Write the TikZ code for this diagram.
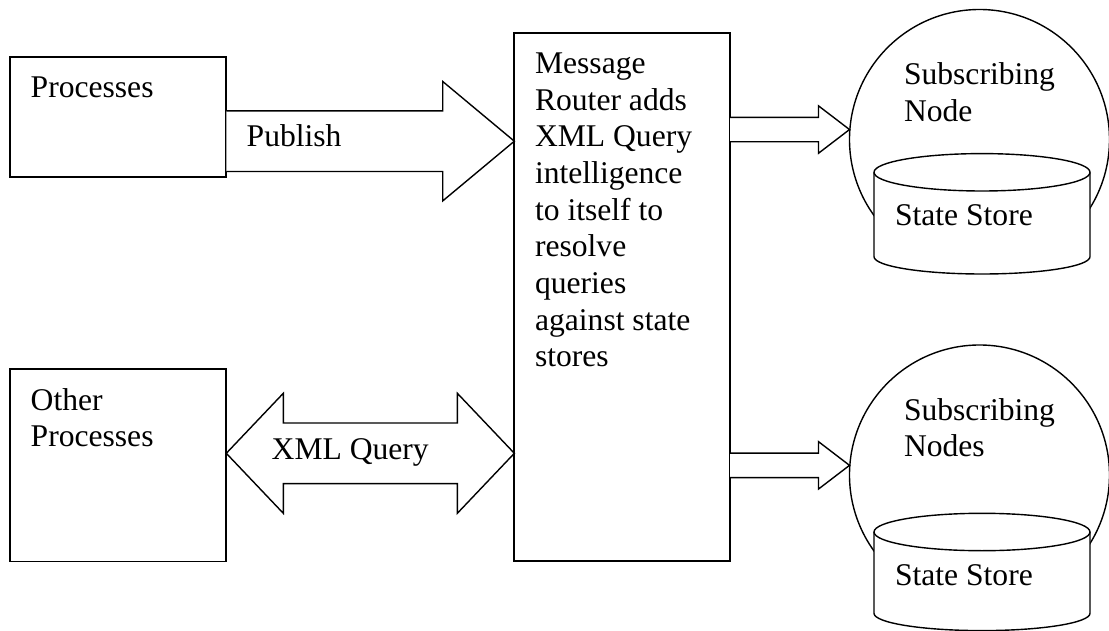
\documentclass[tikz,border=0pt]{standalone}
\usepackage{fontspec}
\setmainfont{Liberation Serif}
\usetikzlibrary{calc}

\newcommand{\diagfont}{\fontsize{31.6pt}{36.7pt}\selectfont}

% Block arrow from #1 (tail) to #2 (tip), shaft half-width #3,
% head half-width #4, head length #5
\newcommand{\fatarrow}[5]{%
  \draw[barrow] ($(#1)+(0,#3)$) -- ($(#2)+(-#5,#3)$) -- ($(#2)+(-#5,#4)$)
    -- (#2) -- ($(#2)+(-#5,-#4)$) -- ($(#2)+(-#5,-#3)$) -- ($(#1)+(0,-#3)$);}

% Database cylinder: left x, right x, top centre y, bottom centre y
\newcommand{\storecyl}[4]{%
  \path[store] (#1,#3) -- (#1,#4)
    arc[start angle=180,end angle=360,x radius={(#2-#1)/2*1pt},y radius=17.3pt]
    -- (#2,#3)
    arc[start angle=0,end angle=180,x radius={(#2-#1)/2*1pt},y radius=18.7pt] -- cycle;
  \draw[storeline] (#1,#3)
    arc[start angle=180,end angle=360,x radius={(#2-#1)/2*1pt},y radius=18.7pt];}

\begin{document}
\begin{tikzpicture}[x=1pt,y=1pt,
  box/.style={draw,line width=1.9pt,minimum width=216.6pt,inner sep=0pt,outer sep=0pt},
  barrow/.style={draw,line width=1.4pt,line join=miter,fill=white},
  sub/.style={circle,draw,line width=1.4pt,minimum size=260pt,inner sep=0pt,outer sep=0pt},
  store/.style={draw,line width=1.4pt,fill=white},
  storeline/.style={draw,line width=1.4pt},
  lbl/.style={anchor=base west,inner sep=0pt,outer sep=0pt,font=\diagfont}]

\useasboundingbox (0,0) rectangle (1109,-631);

% boxes
\node[box,minimum height=120pt] (proc) at (118,-117.3) {};
\node[box,minimum height=192.2pt] (other) at (118,-465.4) {};
\node[box,minimum width=215.7pt,minimum height=527.7pt] (router) at (622.2,-297.2) {};

% subscriber circles
\node[sub] (sub1) at (979.5,-139.5) {};
\node[sub] (sub2) at (979.5,-475) {};

% state stores
\storecyl{874}{1090}{-172.3}{-256.7}
\storecyl{874}{1090}{-532}{-613.3}

% publish arrow
\coordinate (pubS) at ($(proc.east)+(0,-23.9)$);
\coordinate (pubE) at (router.west |- pubS);
\fatarrow{pubS}{pubE}{30.3}{59.7}{71.6}

% XML query double arrow
\coordinate (xqA) at ($(other.east)+(0,12.1)$);
\coordinate (xqB) at (router.west |- xqA);
\draw[barrow] (xqA) -- ($(xqA)+(57,60)$) -- ($(xqA)+(57,30.3)$)
  -- ($(xqB)+(-57,30.3)$) -- ($(xqB)+(-57,60)$) -- (xqB)
  -- ($(xqB)+(-57,-60)$) -- ($(xqB)+(-57,-30.3)$)
  -- ($(xqA)+(57,-30.3)$) -- ($(xqA)+(57,-60)$) -- cycle;

% router to subscribers
\coordinate (r1) at ($(router.north east)+(0,-96.2)$);
\coordinate (t1) at (sub1.west |- r1);
\fatarrow{r1}{t1}{12.2}{23.7}{31}
\coordinate (r2) at ($(router.north east)+(0,-432)$);
\coordinate (t2) at (sub2.west |- r2);
\fatarrow{r2}{t2}{12.2}{23.7}{31}

% labels
\node[lbl] (proctext) at ($(proc.north west)+(21,-40.7)$) {Processes};
\node[lbl] (pubtext) at ($(pubS)+(20.4,-5.5)$) {Publish};
\node[lbl] (othertext) at ($(other.north west)+(21,-40.7)$)
  {\parbox[t]{200pt}{\diagfont\raggedright Other\\Processes}};
\node[lbl] (xqtext) at ($(xqA)+(45.4,-6)$) {XML Query};
\node[lbl] (routertext) at ($(router.north west)+(20.7,-40)$)
  {\parbox[t]{200pt}{\diagfont\raggedright Message\\Router adds\\XML Query\\intelligence\\to itself to\\resolve\\queries\\against state\\stores}};
\node[lbl] (sub1text) at ($(sub1.center)+(-75.5,54.5)$)
  {\parbox[t]{200pt}{\diagfont\raggedright Subscribing\\Node}};
\node[lbl] (sub2text) at ($(sub2.center)+(-75.5,55)$)
  {\parbox[t]{200pt}{\diagfont\raggedright Subscribing\\Nodes}};
\node[lbl] (store1text) at (895,-226) {State Store};
\node[lbl] (store2text) at (895,-585) {State Store};
\end{tikzpicture}
\end{document}
